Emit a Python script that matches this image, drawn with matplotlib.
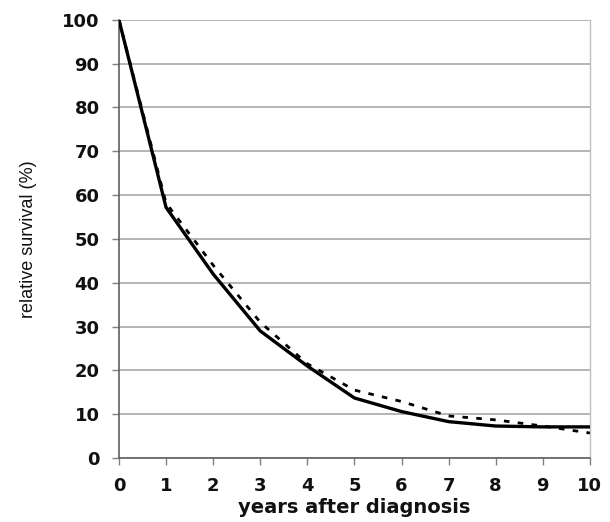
import matplotlib
matplotlib.use("Agg")
import matplotlib.pyplot as plt
from matplotlib import font_manager

years = [0, 1, 2, 3, 4, 5, 6, 7, 8, 9, 10]
survival_solid = [100, 57.2, 42, 29, 21, 13.7, 10.6, 8.3, 7.3, 7.1, 7.1]
survival_dashed = [100, 58.2, 44, 31, 21.5, 15.5, 12.9, 9.6, 8.7, 7.3, 5.7]
x_ticks = list(range(0, 11))
y_ticks = list(range(0, 101, 10))

names = {f.name for f in font_manager.fontManager.ttflist}
narrow = "Liberation Sans Narrow" if "Liberation Sans Narrow" in names else None

fig = plt.figure(figsize=(6.10, 5.22), dpi=100)
ax = fig.add_axes([0.195, 0.1226, 0.772, 0.8394])

ax.plot(years, survival_solid, color="black", lw=2.4, solid_joinstyle="miter", zorder=3)
ax.plot(years, survival_dashed, color="black", lw=2.0, linestyle=(0, (2, 3)), zorder=3)

ax.set_xlim(0, 10)
ax.set_ylim(0, 100)
ax.set_xticks(x_ticks)
ax.set_yticks(y_ticks)
ax.grid(axis="y", color="#b4b4b4", lw=1.4)
ax.set_axisbelow(True)

ax.spines["top"].set_visible(False)
ax.spines["right"].set_color("#c0c0c0")
ax.spines["right"].set_linewidth(1.0)
ax.spines["left"].set_color("#606060")
ax.spines["bottom"].set_color("#606060")
ax.spines["left"].set_linewidth(1.2)
ax.spines["bottom"].set_linewidth(1.2)

ax.tick_params(axis="both", direction="out", color="#808080", length=5, width=1)
ax.tick_params(axis="y", pad=9)
ax.tick_params(axis="x", pad=9)
for lbl in ax.get_xticklabels() + ax.get_yticklabels():
    lbl.set_fontfamily("DejaVu Sans")
    lbl.set_fontweight("bold")
    lbl.set_fontsize(13)
    lbl.set_color("#111111")

ax.set_xlabel("years after diagnosis", fontfamily="DejaVu Sans", fontweight="bold",
              fontsize=14, labelpad=2, color="#111111")
if narrow:
    ax.set_ylabel("relative survival (%)", fontfamily=narrow, fontsize=16,
                  labelpad=17, color="#111111")
else:
    ax.set_ylabel("relative survival (%)", fontfamily="Liberation Sans", fontsize=13,
                  labelpad=18, color="#111111")

fig.savefig("out.png", dpi=100)
